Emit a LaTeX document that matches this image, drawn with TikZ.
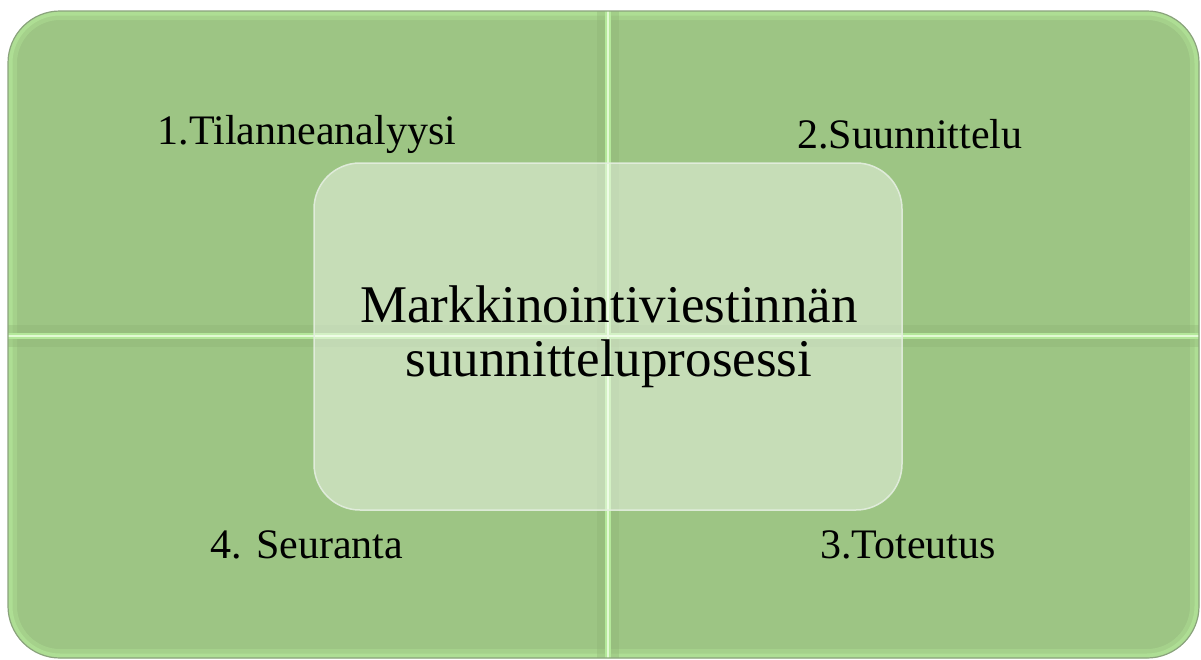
\documentclass[tikz,border=0pt]{standalone}
\usepackage{fontspec}
\setmainfont{Liberation Serif}
\definecolor{quad}{HTML}{9DC584}
\definecolor{edgelight}{HTML}{B4E89A}
\definecolor{edgedark}{HTML}{8AA37C}
\definecolor{divlight}{HTML}{E2FAD4}
\definecolor{divdark}{HTML}{8CB274}
\definecolor{cborder}{HTML}{E4EEE0}
\tikzset{
  quadlabel/.style={font=\fontsize{42}{48}\selectfont, text=black, inner sep=0pt},
  centerlabel/.style={font=\fontsize{53}{54}\selectfont, text=black, align=center, inner sep=0pt},
  centerbox/.style={fill=white, fill opacity=0.42, draw=cborder, draw opacity=0.9, line width=1.5pt, rounded corners=46pt}
}
\begin{document}
\begin{tikzpicture}[x=1pt,y=-1pt]
\useasboundingbox (0,0) rectangle (1201,659);
% outer frame
\coordinate (fNW) at (8,11);
\coordinate (fSE) at (1199,658);
\fill[quad] (fNW) [rounded corners=52pt] rectangle (fSE);
\begin{scope}
  \clip[rounded corners=52pt] (fNW) rectangle (fSE);
  \draw[edgelight, line width=18pt, opacity=0.35, rounded corners=52pt] (fNW) rectangle (fSE);
  \draw[edgelight, line width=9pt, opacity=0.6, rounded corners=52pt] (fNW) rectangle (fSE);
  % divider shading
  \draw[divdark, line width=22pt, opacity=0.35] (608,11) -- (608,658);
  \draw[divdark, line width=22pt, opacity=0.35] (8,336) -- (1199,336);
  \draw[edgelight, line width=6pt] (608,11) -- (608,658);
  \draw[edgelight, line width=6pt] (8,336) -- (1199,336);
  \draw[divlight, line width=2.5pt] (608,11) -- (608,658);
  \draw[divlight, line width=2.5pt] (8,336) -- (1199,336);
\end{scope}
\draw[edgedark, line width=1.2pt, rounded corners=52pt] (fNW) rectangle (fSE);
% quadrant labels
\node[quadlabel] (q1) at (307,134) {1.Tilanneanalyysi};
\node[quadlabel] (q2) at (910,134) {2.Suunnittelu};
\node[quadlabel] (q4) at (307,545) {4. Seuranta};
\node[quadlabel] (q3) at (908,545) {3.Toteutus};
% center box
\path[centerbox] (314,163) rectangle (902,510);
\node[centerlabel] (center) at (609,337) {Markkinointiviestinnän\\suunnitteluprosessi};
\end{tikzpicture}
\end{document}
